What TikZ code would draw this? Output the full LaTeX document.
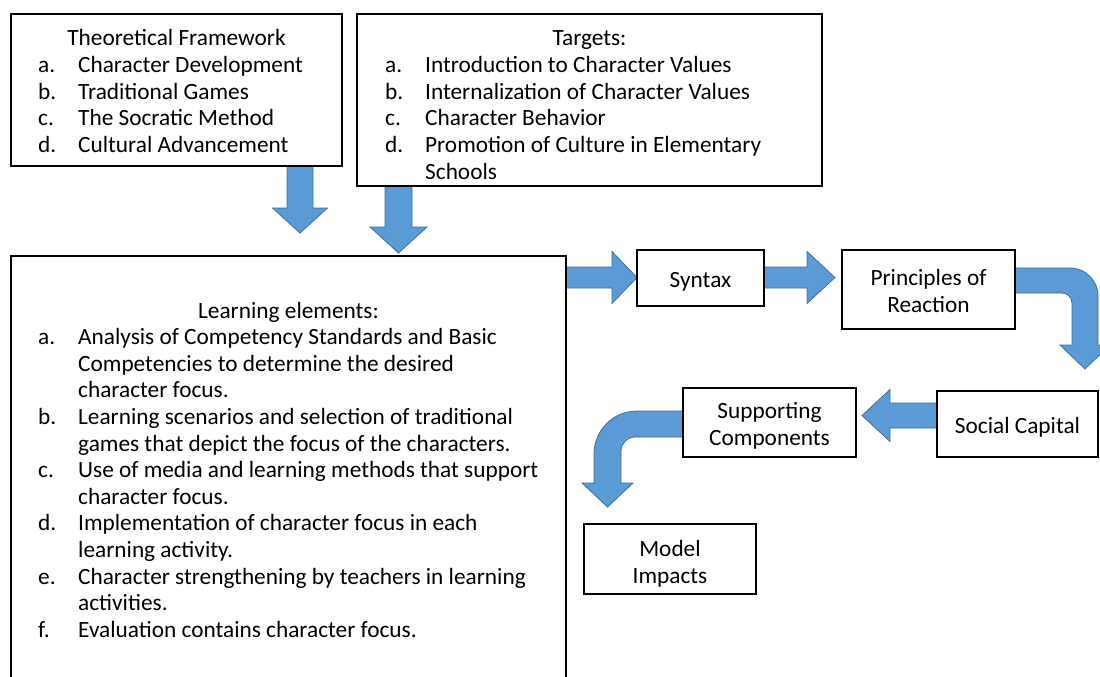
\documentclass[tikz,border=0pt]{standalone}
\usepackage{fontspec}
\setmainfont{Carlito}
\usetikzlibrary{calc}
\definecolor{arrowfill}{HTML}{5B9BD5}
\definecolor{arrowedge}{HTML}{41719C}
\tikzset{
  txt/.style={font=\fontsize{23.3}{26.6}\selectfont},
  box/.style={draw=black, line width=1.6pt, fill=white, inner sep=0pt,
    outer sep=0pt, anchor=north west},
  stagetext/.style={txt, align=center, inner sep=0pt, yshift=-3.5pt},
  item/.style={txt, anchor=base west, inner sep=0pt},
  heading/.style={txt, anchor=base, inner sep=0pt},
  blockarrow/.style={fill=arrowfill, draw=arrowedge, line width=0.8pt, line join=miter},
  % straight block arrow pointing along +x: length, shaft half width, head half width, head length
  pics/rightarrow/.style n args={4}{code={
    \path[blockarrow] (0,-#2) -- (#1-#4,-#2) -- (#1-#4,-#3) -- (#1,0)
      -- (#1-#4,#3) -- (#1-#4,#2) -- (0,#2) -- cycle;}}
}
\begin{document}
\begin{tikzpicture}[x=1pt,y=-1pt]
\clip (0,0) rectangle (1100,677);
\fill[white] (0,0) rectangle (1100,677);

% block arrows
\pic[rotate=-90] at (300,166) {rightarrow={67}{13}{27.5}{25}};
\pic[rotate=-90] at (398.5,186) {rightarrow={67}{13.5}{28.5}{26}};
\pic at (566,277.5) {rightarrow={71}{10.5}{26}{25}};
\pic at (764,277.5) {rightarrow={71}{10.5}{26}{28}};
\pic[rotate=180] at (937,415.5) {rightarrow={75}{12.5}{26}{28}};

% bent arrow: Principles of Reaction -> Social Capital
\path[blockarrow] (1015,268) -- (1070,268)
  .. controls (1085.5,268) and (1098,280.5) .. (1098,296)
  -- (1098,345) -- (1110,345) -- (1085,369) -- (1060,345) -- (1072,345)
  -- (1072,303) .. controls (1072,297.5) and (1067.5,293) .. (1062,293)
  -- (1015,293) -- cycle;

% bent arrow: Supporting Components -> Model Impacts
\path[blockarrow] (683,411) -- (637,411)
  .. controls (613.3,411) and (594,430.3) .. (594,454)
  -- (594,483) -- (582,483) -- (607.5,507) -- (633,483) -- (621,483)
  -- (621,451) .. controls (621,443.3) and (627.3,437) .. (635,437)
  -- (683,437) -- cycle;

% Theoretical Framework
\node[box, minimum width=331pt, minimum height=152pt] (tf) at (11,14) {};
\node[heading] (tf-h) at (176.5,46) {Theoretical Framework};
\foreach \lab/\txt [count=\i] in {
    a./Character Development,
    b./Traditional Games,
    c./The Socratic Method,
    d./Cultural Advancement}
  \node[item] (tf-\i) at (38,46+26.6*\i) {\makebox[40pt][l]{\lab}\txt};

% Targets
\node[box, minimum width=465pt, minimum height=172pt] (tg) at (357,14) {};
\node[heading] (tg-h) at (589.5,46) {Targets:};
\foreach \lab/\txt [count=\i] in {
    a./Introduction to Character Values,
    b./Internalization of Character Values,
    c./Character Behavior,
    d./Promotion of Culture in Elementary,
    /Schools}
  \node[item] (tg-\i) at (385,46+26.6*\i) {\makebox[40pt][l]{\lab}\txt};

% Learning elements
\node[box, minimum width=555pt, minimum height=440pt] (le) at (11,256) {};
\node[heading] (le-h) at (288.5,318) {Learning elements:};
\foreach \lab/\txt [count=\i] in {
    a./Analysis of Competency Standards and Basic,
    /Competencies to determine the desired,
    /character focus.,
    b./Learning scenarios and selection of traditional,
    /games that depict the focus of the characters.,
    c./Use of media and learning methods that support,
    /character focus.,
    d./Implementation of character focus in each,
    /learning activity.,
    e./Character strengthening by teachers in learning,
    /activities.,
    f./Evaluation contains character focus.}
  \node[item] (le-\i) at (38,318+26.6*\i) {\makebox[40pt][l]{\lab}\txt};

% stage boxes
\node[box, minimum width=127pt, minimum height=56pt] (syn) at (637,250) {};
\node[stagetext] (syn-t) at (syn.center) {Syntax};
\node[box, minimum width=173pt, minimum height=79pt] (pr) at (842,250) {};
\node[stagetext, yshift=2pt] (pr-t) at (pr.center) {Principles of\\Reaction};
\node[box, minimum width=161pt, minimum height=66pt] (sc) at (937,391) {};
\node[stagetext] (sc-t) at (sc.center) {Social Capital};
\node[box, minimum width=173pt, minimum height=69pt] (sup) at (683,388) {};
\node[stagetext] (sup-t) at (sup.center) {Supporting\\Components};
\node[box, minimum width=172pt, minimum height=70pt] (mi) at (584,524) {};
\node[stagetext, yshift=-1pt] (mi-t) at (mi.center) {Model\\Impacts};
\end{tikzpicture}
\end{document}
